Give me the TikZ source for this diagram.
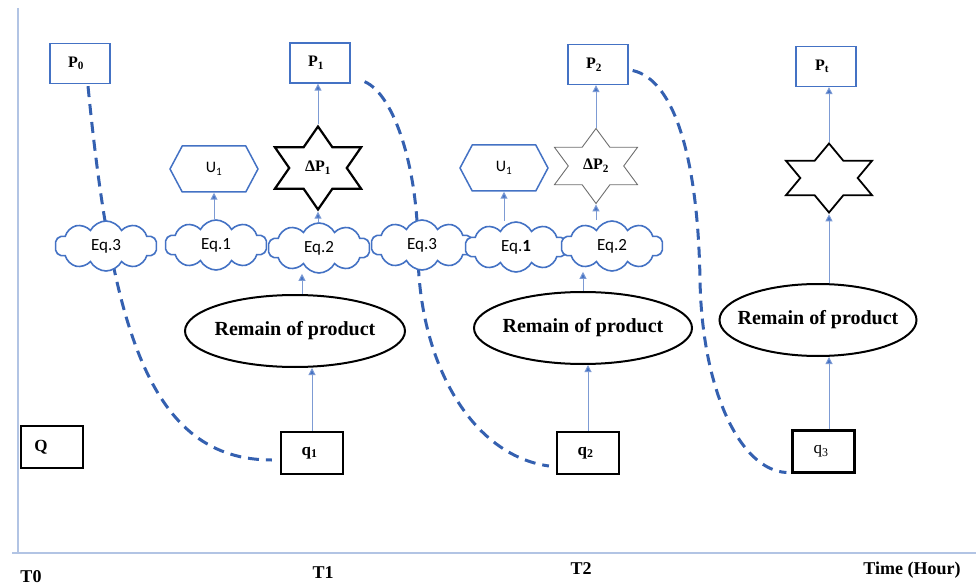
\documentclass[tikz,border=0pt]{standalone}
\usepackage{fontspec}
\setmainfont{Liberation Serif}
\newfontfamily\carl{Carlito}
\usetikzlibrary{arrows.meta,shapes.geometric,shapes.symbols,calc}
\definecolor{boxblue}{RGB}{68,114,196}
\definecolor{arrowblue}{RGB}{125,155,212}
\definecolor{dashblue}{RGB}{52,96,176}
\definecolor{axisblue}{RGB}{178,196,228}
\definecolor{stargray}{RGB}{110,110,110}
\tikzset{
  pbox/.style={draw=boxblue, line width=1.3pt, fill=white, minimum width=60pt, minimum height=40pt, inner sep=0pt, font=\fontsize{16}{16}\selectfont\bfseries},
  qbox/.style={draw=black, line width=2.2pt, fill=white, minimum width=62pt, minimum height=42pt, inner sep=0pt, font=\fontsize{17}{17}\selectfont\bfseries},
  eqcloud/.style={cloud, cloud puffs=10, cloud puff arc=125, aspect=2.05, draw=boxblue, line width=1.6pt, fill=white, minimum width=102pt, minimum height=50pt, inner sep=1pt, font=\carl\fontsize{17}{17}\selectfont},
  hexa/.style={signal, signal to=west and east, signal pointer angle=124, draw=boxblue, line width=1.5pt, fill=white, minimum width=88pt, minimum height=46pt, inner sep=0pt, font=\carl\fontsize{16}{16}\selectfont},
  remain/.style={ellipse, draw=black, line width=2pt, fill=white, inner sep=0pt, minimum height=72pt, font=\fontsize{20}{20}\selectfont\bfseries},
  hexstar/.style={star, star points=6, star point ratio=1.732, inner sep=0pt, fill=white, transform shape},
  startext/.style={inner sep=0pt, font=\fontsize{16}{16}\selectfont\bfseries},
  arr/.style={draw=arrowblue, line width=1pt, -{Triangle[width=7pt,length=7pt,fill=boxblue]}},
  dashc/.style={draw=dashblue, line width=3pt, dash pattern=on 11pt off 7pt},
  axisline/.style={draw=axisblue, line width=1.4pt},
  tlabel/.style={inner sep=0pt, font=\fontsize{18}{18}\selectfont\bfseries}
}
\newcommand{\remtxt}{\makebox[120pt]{Remain of product}}
\begin{document}
\begin{tikzpicture}[x=1pt,y=-1pt]
\useasboundingbox (0,0) rectangle (977,588);
% axes
\coordinate (ytop) at (18,8);
\coordinate (orig) at (18,553);
\coordinate (xleft) at (12,553);
\coordinate (xend) at (976,553);
\draw[axisline] (ytop) -- (orig);
\draw[axisline] (xleft) -- (xend);
\node[tlabel] (t0) at (31,577) {T0};
\node[tlabel] (t1) at (323,573) {T1};
\node[tlabel] (t2) at (581,569) {T2};
\node[tlabel] (th) at (912,570) {Time (Hour)};

% boxes
\node[pbox] (P0) at (80,63.5) {P\textsubscript{0}\kern8pt};
\node[pbox] (P1) at (320,63) {P\textsubscript{1}\kern8pt};
\node[pbox] (P2) at (598,64.5) {P\textsubscript{2}\kern8pt};
\node[pbox] (P3) at (826,66.5) {P\textsubscript{t}\kern8pt};
\node[qbox] (Q) at (52,447) {Q\kern22pt};
\node[qbox] (q1) at (312,453) {q\textsubscript{1}\kern5pt};
\node[qbox] (q2) at (588,453) {q\textsubscript{2}\kern5pt};
\node[qbox, font=\fontsize{17}{17}\selectfont] (q3) at (823.5,451.5) {q\textsubscript{3}\kern5pt};

% dashed curves
\draw[dashc] ($(P0.south)+(8,2)$) .. controls (112,330) and (150,460) .. ($(q1.west)+(-8,7)$);
\draw[dashc] ($(P1.south east)+(14,-2)$) .. controls (395,95) and (418,170) .. (418,250)
  .. controls (418,360) and (470,455) .. ($(q2.west)+(-7,13)$);
\draw[dashc] ($(P2.east)+(4,6)$) .. controls (675,80) and (698,160) .. (700,280)
  .. controls (702,390) and (740,470) .. ($(q3.west)+(-5,21)$);

% clouds
\node[eqcloud] (e3a) at (106,246) {Eq.3};
\node[eqcloud] (e1a) at (216,245) {Eq.1};
\node[eqcloud] (e2a) at (319,248) {Eq.2};
\node[eqcloud] (e3b) at (422,245) {Eq.3};
\node[eqcloud] (e1b) at (516,247) {Eq.\textbf{1}};
\node[eqcloud] (e2b) at (612,246) {Eq.2};

% hexagons
\node[hexa] (u1) at (214,169) {U\textsubscript{1}};
\node[hexa] (u2) at (504,168) {U\textsubscript{1}};

% stars
\begin{scope}[shift={(318,168)}, xscale=1.2]
  \node[hexstar, draw=black, line width=2.2pt, minimum size=83pt] (s1) at (0,0) {};
\end{scope}
\begin{scope}[shift={(596,166)}, xscale=1.28]
  \node[hexstar, draw=stargray, line width=0.9pt, minimum size=75pt] (s2) at (0,0) {};
\end{scope}
\begin{scope}[shift={(829,178)}, xscale=1.44]
  \node[hexstar, draw=black, line width=1.8pt, minimum size=69pt] (s3) at (0,0) {};
\end{scope}
\node[startext] (s1t) at (s1) {ΔP\textsubscript{1}};
\node[startext] (s2t) at (s2) {ΔP\textsubscript{2}};

% ellipses
\node[remain, minimum width=220pt] (r1) at (295,331) {\remtxt};
\node[remain, minimum width=218pt] (r2) at (583,328) {\remtxt};
\node[remain, minimum width=197pt] (r3) at (818,320) {\remtxt};

% arrows group 1
\draw[arr] (q1.north) -- (q1.north |- r1.south);
\draw[arr] ($(r1.north)+(7,0)$) -- ($(r1.north |- e2a.south)+(7,0)$);
\draw[arr] (s1.south |- e2a.north) -- (s1.south);
\draw[arr] (s1.north) -- (s1.north |- P1.south);
\draw[arr] (u1.south |- e1a.north) -- (u1.south);
% arrows group 2
\draw[arr] (q2.north) -- (q2.north |- r2.south);
\draw[arr] (r2.north) -- (r2.north |- e2b.south);
\draw[arr] (s2.south |- e2b.north) -- (s2.south);
\draw[arr] (s2.north) -- (s2.north |- P2.south);
\draw[arr] (u2.south |- e1b.north) -- (u2.south);
% arrows group 3
\draw[arr] (s3 |- q3.north) -- (s3 |- r3.south);
\draw[arr] (s3 |- r3.north) -- (s3.south);
\draw[arr] (s3.north) -- (s3.north |- P3.south);
\end{tikzpicture}
\end{document}
